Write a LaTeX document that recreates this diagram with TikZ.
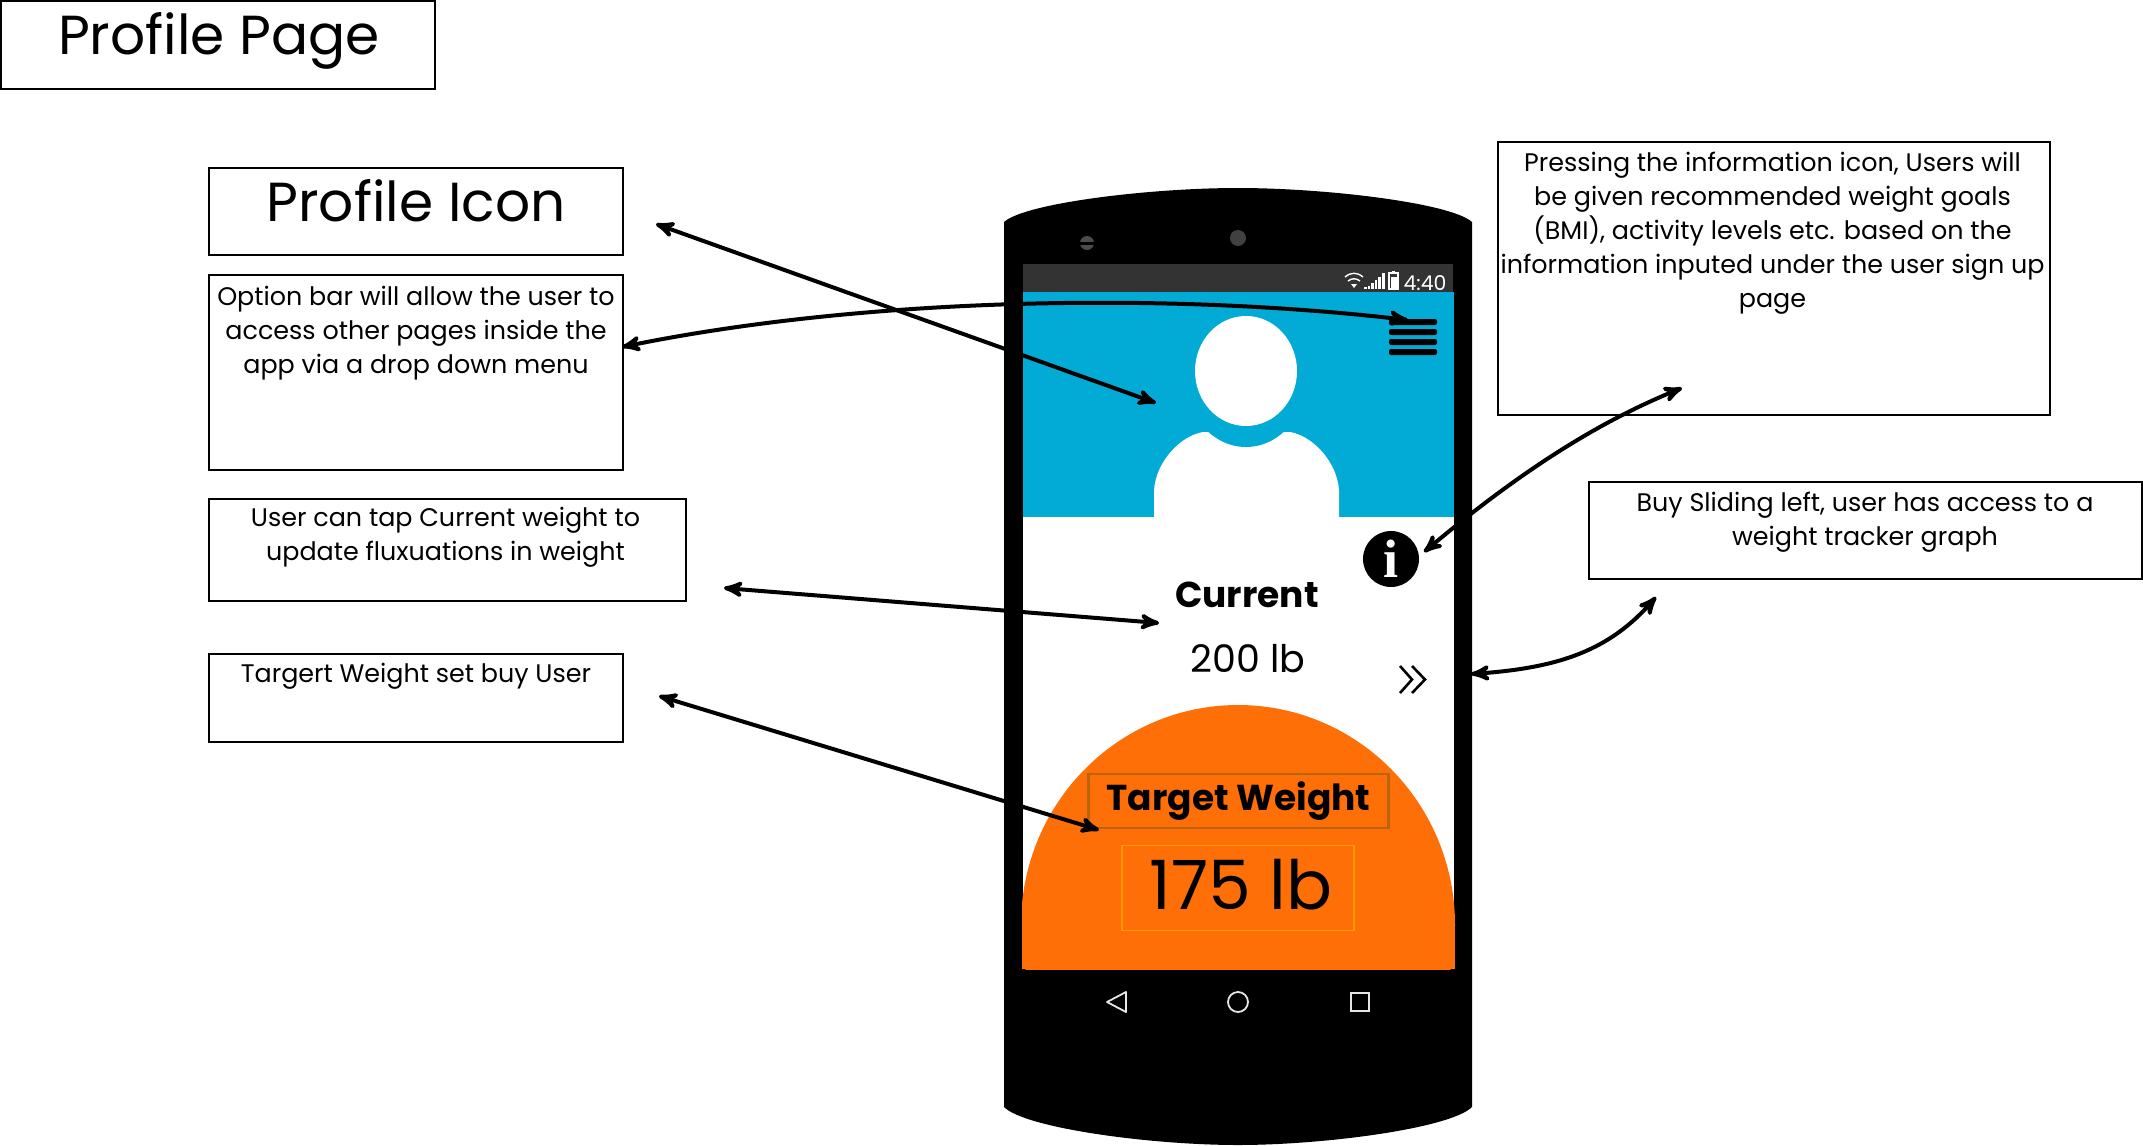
\documentclass[tikz,border=0pt]{standalone}
\usepackage{fontspec}
\setmainfont{Poppins}
\newfontfamily\infofont{Liberation Serif}
\usepackage{tikz}
\usetikzlibrary{arrows,calc}
\definecolor{screenblue}{HTML}{02ABD6}
\definecolor{archorange}{HTML}{FF6F08}
\definecolor{barGrey}{HTML}{333333}
\definecolor{navGrey}{HTML}{E6E6E6}
\definecolor{darkbox}{HTML}{B8650A}
\definecolor{lightbox}{HTML}{FF9A00}
\begin{document}
\begin{tikzpicture}[
        x=.5pt, y=-.5pt,
        notebox/.style={draw, line width=1.25pt, inner sep=0pt, fill=white},
        notetext/.style={anchor=north, align=center, inner sep=0pt,
            font=\fontsize{12.7}{17}\selectfont},
        bigtext/.style={anchor=north, inner sep=0pt,
            font=\fontsize{27.5}{30}\selectfont},
        screentext/.style={inner sep=0pt, font=\fontsize{19}{21}\selectfont},
        callout/.style={line width=2pt, <->, >=stealth'},
        navbtn/.style={draw=navGrey, line width=.9pt},
    ]
    \useasboundingbox (0,0) rectangle (2143,1146);

    % phone body
    \fill (1004,1107) -- (1004,222)
        .. controls (1025,203) and (1150,188) .. (1238,188)
        .. controls (1326,188) and (1451,203) .. (1472,222)
        -- (1472,1107)
        .. controls (1451,1128) and (1326,1145) .. (1238,1145)
        .. controls (1150,1145) and (1025,1128) .. (1004,1107) -- cycle;
    \fill[black!75] (1238,238) circle (8);
    \fill[black!70] (1087,243) circle (7);
    \fill (1078,242) rectangle (1096,245);

    % screen
    \fill[white] (1023,517) rectangle (1454,969);
    \fill[barGrey] (1023,264) rectangle (1453,292);
    \fill[screenblue] (1023,292) rectangle (1454,517);

    % status icons
    \foreach \i/\h in {0/2,1/3,2/6,3/9,4/12,5/16}
        \fill[white] ({1364+\i*3.6},289) rectangle ++(2.6,-\h);
    \draw[white, line width=.7pt] (1389,273) rectangle (1398,289);
    \fill[white] (1390.5,277) rectangle (1396.5,288);
    \fill[white] (1392,271) rectangle (1395,273);
    \draw[white, line width=.7pt] (1345,277) .. controls (1351,272) and (1357,272) .. (1363,277);
    \draw[white, line width=.7pt] (1348,281) .. controls (1352,278) and (1356,278) .. (1360,281);
    \fill[white] (1351,284) -- (1354,288) -- (1357,284) -- cycle;
    \node[inner sep=0pt, text=white, font=\fontsize{10.2}{12}\selectfont]
        (clock) at (1425,283) {4:40};

    % person
    \fill[white] (1154,517) -- (1154,490)
        .. controls (1156,462) and (1180,436) .. (1203,432) -- (1290,432)
        .. controls (1313,436) and (1337,462) .. (1339,490) -- (1339,517) -- cycle;
    \fill[screenblue] (1246,371) ellipse (63 and 76);
    \fill[white] (1246,371) ellipse (51 and 55);

    % option bars
    \foreach \y in {322,332,342,352}
        \fill[rounded corners=1pt] (1389,\y-3) rectangle (1437,\y+3);

    % info icon
    \node[circle, fill=black, minimum size=28pt, inner sep=0pt, text=white,
        font=\infofont\bfseries\fontsize{27}{27}\selectfont] (info) at (1391,559) {i};

    % current weight
    \node[screentext, font=\bfseries\fontsize{18}{20}\selectfont] (current) at (1247,595) {Current};
    \node[screentext] (currentval) at (1248,659) {200 lb};

    % slide chevrons
    \draw[line width=1.3pt] (1400,666) -- (1412,679.5) -- (1400,693);
    \draw[line width=1.3pt] (1412,666) -- (1425,679.5) -- (1412,693);

    % orange arch
    \begin{scope}
        \clip (1022,700) rectangle (1456,969);
        \fill[archorange] (1238,925) ellipse (217 and 220);
        \fill[archorange] (1022,925) rectangle (1455,969);
    \end{scope}
    \node[draw=darkbox, line width=1.1pt, fill=archorange, minimum width=150pt,
        minimum height=27pt, inner sep=0pt,
        font=\bfseries\fontsize{18}{20}\selectfont] (target) at (1238.5,801) {Target Weight};
    \node[draw=lightbox, line width=.8pt, minimum width=116pt, minimum height=42.5pt,
        inner sep=0pt] (targetbox) at (1238,888) {};
    \node[inner sep=0pt, font=\fontsize{34}{36}\selectfont] (targetval) at (1241,885) {175 lb};

    % nav buttons
    \draw[navbtn, line join=round] (1107,1002) -- (1126,992) -- (1126,1012) -- cycle;
    \draw[navbtn] (1238,1002) circle (10);
    \draw[navbtn] (1351,993) rectangle (1369,1011);

    % note boxes
    \node[notebox, minimum width=217pt, minimum height=44pt] (titlebox) at (218,45) {};
    \node[bigtext] (titletxt) at (219,12.5) {Profile Page};

    \node[notebox, minimum width=207pt, minimum height=43.5pt] (iconbox) at (416,211.5) {};
    \node[bigtext] (icontxt) at (416,179.5) {Profile Icon};

    \node[notebox, minimum width=207pt, minimum height=97.5pt] (optbox) at (416,372.5) {};
    \node[notetext] (opttxt) at (416,285.5) {Option bar will allow the user to\\
        access  other pages inside the\\ app via  a drop down menu};

    \node[notebox, minimum width=238.5pt, minimum height=51pt] (curbox) at (447.5,550) {};
    \node[notetext] (curtxt) at (445.5,507) {User can tap Current weight to\\ update fluxuations in weight};

    \node[notebox, minimum width=207pt, minimum height=44pt] (targbox) at (416,698) {};
    \node[notetext] (targtxt) at (416,663) {Targert Weight set buy User};

    \node[notebox, minimum width=276pt, minimum height=136.5pt] (infobox) at (1774,278.5) {};
    \node[notetext] (infotxt) at (1772.5,151.5) {Pressing the information icon, Users will\\
        be given recommended weight goals\\ (BMI), activity levels etc. based on the\\
        information inputed under the user sign up\\ page};

    \node[notebox, minimum width=276.5pt, minimum height=48.5pt] (buybox) at (1865.5,530.5) {};
    \node[notetext] (buytxt) at (1865,491.5) {Buy Sliding left, user has access to a\\ weight tracker graph};

    % callout ends
    \coordinate (iconend) at (656,224);
    \coordinate (personend) at (1156,403);
    \coordinate (optend) at (622,347);
    \coordinate (barsend) at (1408,320);
    \coordinate (curend) at (724,588);
    \coordinate (curvalend) at (1159,623);
    \coordinate (targend) at (659,696);
    \coordinate (archend) at (1099,830);
    \coordinate (infoend) at (1424,552);
    \coordinate (pressend) at (1682,388);
    \coordinate (sideend) at (1471,674);
    \coordinate (buyend) at (1656,597);

    % callouts
    \draw[callout] (iconend) -- (personend);
    \draw[callout] (optend) .. controls (850,300) and (1150,290) .. (barsend);
    \draw[callout] (curend) -- (curvalend);
    \draw[callout] (targend) -- (archend);
    \draw[callout] (infoend) .. controls (1510,480) and (1590,425) .. (pressend);
    \draw[callout] (sideend) .. controls (1560,668) and (1610,650) .. (buyend);
\end{tikzpicture}
\end{document}
